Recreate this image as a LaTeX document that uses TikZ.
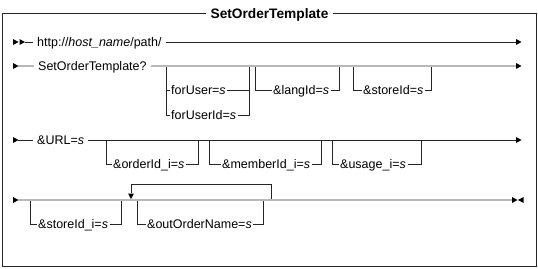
\documentclass[tikz,border=0pt]{standalone}
\usepackage{fontspec}
\setmainfont{Liberation Sans}
\begin{document}
\begin{tikzpicture}[x=1pt,y=-1pt,
  txt/.style={font=\fontsize{12.5}{14}\selectfont, text height=9pt, text depth=0pt, anchor=west, inner ysep=0pt},
  mtxt/.style={txt, inner xsep=4pt},
  btxt/.style={txt, inner xsep=1.5pt},
  mainA/.style={draw=black!85, line width=0.9pt},
  mainB/.style={draw=black!28, line width=1.8pt},
  brl/.style={draw=black!85, line width=0.9pt},
  frm/.style={draw=black!85, line width=1pt},
  rtri/.pic={\fill[black] (0,-3) -- (5.5,0) -- (0,3) -- cycle;},
  ltri/.pic={\fill[black] (0,-3) -- (-5.5,0) -- (0,3) -- cycle;},
  dtri/.pic={\fill[black] (-3,-5.5) -- (0,0) -- (3,-5.5) -- cycle;},
]
\useasboundingbox (0,0) rectangle (538,268);

% frame and title
\node[font=\bfseries\fontsize{13.7}{16}\selectfont, inner xsep=4pt, inner ysep=0pt, text height=10pt, text depth=0pt] (title) at (269.5,13) {SetOrderTemplate};
\coordinate (fTR) at (536,13);
\coordinate (fBR) at (536,266);
\coordinate (fBL) at (2,266);
\coordinate (fTL) at (2,13);
\draw[frm] (title.east) -- (fTR) -- (fBR) -- (fBL) -- (fTL) -- (title.west);

% row 1
\pic at (13,42) {rtri};
\pic at (19.5,42) {rtri};
\coordinate (r1s) at (25,42);
\node[mtxt] (url) at (33,42) {http://\textit{host\_name}/path/};
\coordinate (r1e) at (516,42);
\draw[mainA] (r1s) -- (url.west);
\draw[mainA] (url.east) -- (r1e);
\pic at (r1e) {rtri};

% row 2
\pic at (13,66) {rtri};
\coordinate (r2s) at (18,66);
\node[mtxt] (sot) at (34,66) {SetOrderTemplate?};
\coordinate (r2e) at (516,66);
\coordinate (b1l) at (166,66);
\coordinate (b1r) at (249,66);
\node[btxt] (fu) at (169.5,90) {forUser=\textit{s}};
\node[btxt] (fui) at (169.5,115) {forUserId=\textit{s}};
\draw[brl] (b1l) |- (fu.west);
\draw[brl] (b1l) |- (fui.west);
\draw[brl] (fu.east) -| (b1r);
\draw[brl] (fui.east) -| (b1r);
\coordinate (b2l) at (255,66);
\coordinate (b2r) at (339,66);
\node[btxt] (lang) at (271.5,90) {\&langId=\textit{s}};
\draw[brl] (b2l) |- (lang.west);
\draw[brl] (lang.east) -| (b2r);
\coordinate (b3l) at (353,66);
\coordinate (b3r) at (431,66);
\node[btxt] (store) at (361.5,90) {\&storeId=\textit{s}};
\draw[brl] (b3l) |- (store.west);
\draw[brl] (store.east) -| (b3r);
\draw[mainB] (r2s) -- (sot.west);
\draw[mainB] (sot.east) -- (r2e);
\pic at (r2e) {rtri};

% row 3
\pic at (13,140) {rtri};
\coordinate (r3s) at (18,140);
\node[mtxt] (urlp) at (33,140) {\&URL=\textit{s}};
\coordinate (r3e) at (516,140);
\coordinate (c1l) at (106,140);
\coordinate (c1r) at (198,140);
\node[btxt] (ord) at (111.5,164) {\&orderId\_i=\textit{s}};
\draw[brl] (c1l) |- (ord.west);
\draw[brl] (ord.east) -| (c1r);
\coordinate (c2l) at (209,140);
\coordinate (c2r) at (321,140);
\node[btxt] (mem) at (220.5,164) {\&memberId\_i=\textit{s}};
\draw[brl] (c2l) |- (mem.west);
\draw[brl] (mem.east) -| (c2r);
\coordinate (c3l) at (332,140);
\coordinate (c3r) at (421,140);
\node[btxt] (usg) at (338.5,164) {\&usage\_i=\textit{s}};
\draw[brl] (c3l) |- (usg.west);
\draw[brl] (usg.east) -| (c3r);
\draw[mainA] (r3s) -- (urlp.west);
\draw[mainA] (urlp.east) -- (r3e);
\pic at (r3e) {rtri};

% row 4
\pic at (13,200) {rtri};
\coordinate (r4s) at (18,200);
\coordinate (r4e) at (512,200);
\coordinate (d1l) at (30,200);
\coordinate (d1r) at (121,200);
\node[btxt] (sti) at (36.5,224) {\&storeId\_i=\textit{s}};
\draw[brl] (d1l) |- (sti.west);
\draw[brl] (sti.east) -| (d1r);
\coordinate (d2l) at (137,200);
\coordinate (d2r) at (263,200);
\node[btxt] (oon) at (145.5,224) {\&outOrderName=\textit{s}};
\draw[brl] (d2l) |- (oon.west);
\draw[brl] (oon.east) -| (d2r);
\coordinate (lpR) at (271,200);
\coordinate (lpE) at (131,193);
\draw[brl] (lpR) -- ++(0,-16) -| (lpE);
\pic at (131,199) {dtri};
\draw[mainB] (r4s) -- (r4e);
\pic at (512,200) {rtri};
\pic at (523.5,200) {ltri};
\end{tikzpicture}
\end{document}
